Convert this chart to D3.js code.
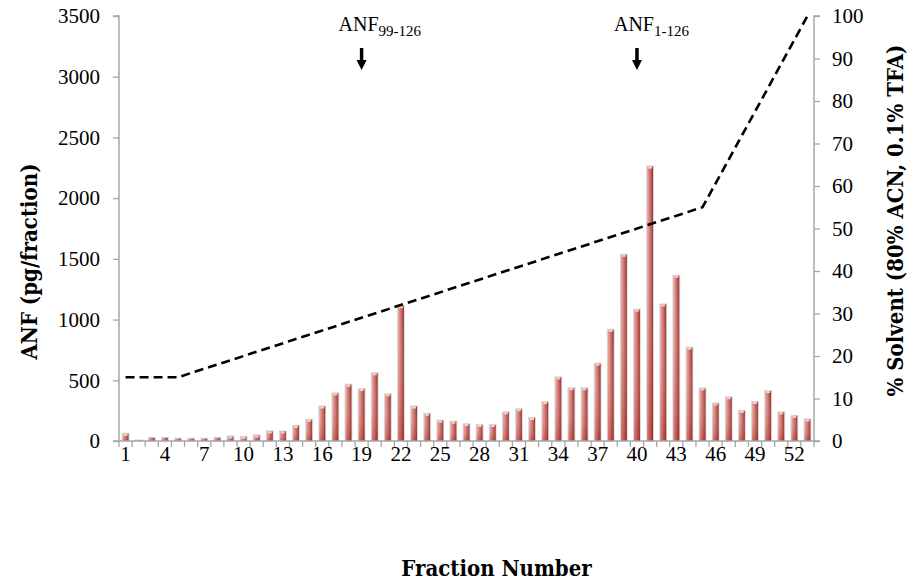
<!DOCTYPE html>
<html>
<head>
<meta charset="utf-8">
<script src="https://cdn.jsdelivr.net/npm/d3@7"></script>
<style>
  html, body { margin: 0; padding: 0; background: #fff; }
  svg { display: block; }
  .tick text { font-family: "Liberation Serif", serif; font-size: 21px; fill: #000; }
</style>
</head>
<body>
<svg id="chart" width="915" height="586"></svg>
<script>
// Fraction numbers collected from the HPLC run
const fractions = d3.range(1, 54);

// ANF immunoreactivity per fraction (pg/fraction)
const anfValues = [
  60, 5, 26, 26, 19, 19, 19, 26, 38, 34,
  46, 79, 79, 125, 175, 284, 392, 464, 428, 558,
  385, 1110, 284, 224, 168, 159, 139, 132, 132, 236,
  262, 190, 320, 524, 435, 435, 637, 916, 1534, 1082,
  2260, 1125, 1361, 768, 433, 309, 360, 248, 321, 411,
  236, 207, 177
];

// Solvent gradient programme: breakpoints (fraction, % solvent)
const gradientFractions = [1, 5, 45, 53];
const gradientPercent = [15, 15, 55, 100];

// Axis tick values
const leftTicks = [0, 500, 1000, 1500, 2000, 2500, 3000, 3500];
const rightTicks = [0, 10, 20, 30, 40, 50, 60, 70, 80, 90, 100];
const xLabelFractions = [1, 4, 7, 10, 13, 16, 19, 22, 25, 28, 31, 34, 37, 40, 43, 46, 49, 52];

// Peak annotations
const peakLabels = [
  { base: "ANF", sub: "99-126", fraction: 19 },
  { base: "ANF", sub: "1-126", fraction: 40 }
];

const svg = d3.select("#chart");
const plot = { left: 119, right: 814, top: 16, bottom: 441 };
const axisColor = "#a6a6a6";

const x = d3.scaleBand()
  .domain(fractions)
  .range([plot.left, plot.right])
  .paddingInner(0.55)
  .paddingOuter(0.275);
const step = x.step();
const cx = f => x(f) + x.bandwidth() / 2;

const yLeft = d3.scaleLinear().domain([0, 3500]).range([plot.bottom, plot.top]);
const yRight = d3.scaleLinear().domain([0, 100]).range([plot.bottom, plot.top]);

// Bar shading: light left edge, dark right edge
const defs = svg.append("defs");
const gH = defs.append("linearGradient").attr("id", "barH")
  .attr("x1", "0").attr("x2", "1").attr("y1", "0").attr("y2", "0");
gH.append("stop").attr("offset", "0%").attr("stop-color", "#e8aaa6");
gH.append("stop").attr("offset", "35%").attr("stop-color", "#d6847f");
gH.append("stop").attr("offset", "75%").attr("stop-color", "#b8504a");
gH.append("stop").attr("offset", "100%").attr("stop-color", "#8e2a26");
const gV = defs.append("linearGradient").attr("id", "barV")
  .attr("x1", "0").attr("x2", "0").attr("y1", "0").attr("y2", "1");
gV.append("stop").attr("offset", "0%").attr("stop-color", "#ffffff").attr("stop-opacity", 0.0);
gV.append("stop").attr("offset", "100%").attr("stop-color", "#a0201a").attr("stop-opacity", 0.35);

// Bars
const bars = svg.append("g");
const data = fractions.map((f, i) => ({ f, v: anfValues[i] }));
bars.selectAll("rect.shadow").data(data).join("rect")
  .attr("class", "shadow")
  .attr("x", d => x(d.f) - 1)
  .attr("y", d => yLeft(d.v) - 1)
  .attr("width", x.bandwidth() + 2)
  .attr("height", d => plot.bottom - yLeft(d.v) + 1)
  .attr("fill", "#d9d9d9");
bars.selectAll("rect.bar").data(data).join("rect")
  .attr("class", "bar")
  .attr("x", d => x(d.f))
  .attr("y", d => yLeft(d.v))
  .attr("width", x.bandwidth())
  .attr("height", d => plot.bottom - yLeft(d.v))
  .attr("fill", "url(#barH)");
bars.selectAll("rect.shade").data(data).join("rect")
  .attr("class", "shade")
  .attr("x", d => x(d.f))
  .attr("y", d => yLeft(d.v))
  .attr("width", x.bandwidth())
  .attr("height", d => plot.bottom - yLeft(d.v))
  .attr("fill", "url(#barV)");
bars.selectAll("rect.cap").data(data.filter(d => d.v > 30)).join("rect")
  .attr("class", "cap")
  .attr("x", d => x(d.f) + 1)
  .attr("y", d => yLeft(d.v))
  .attr("width", x.bandwidth() - 2)
  .attr("height", 2)
  .attr("fill", "#f3d3d1");

// Solvent gradient (dashed)
const gradient = gradientFractions.map((f, i) => [cx(f), yRight(gradientPercent[i])]);
svg.append("path")
  .attr("d", d3.line()(gradient))
  .attr("fill", "none")
  .attr("stroke", "#000")
  .attr("stroke-width", 2.6)
  .attr("stroke-dasharray", "9,5");

// Left axis
const gl = svg.append("g").attr("transform", `translate(${plot.left},0)`)
  .call(d3.axisLeft(yLeft).tickValues(leftTicks).tickSize(6).tickPadding(13).tickFormat(d3.format("d")));
// Right axis
const gr = svg.append("g").attr("transform", `translate(${plot.right},0)`)
  .call(d3.axisRight(yRight).tickValues(rightTicks).tickSize(6).tickPadding(12).tickFormat(d3.format("d")));
// Bottom axis: tick marks on category boundaries, labels on every third fraction
const gb = svg.append("g").attr("transform", `translate(0,${plot.bottom})`);
gb.append("line").attr("x1", plot.left).attr("x2", plot.right)
  .attr("stroke", axisColor).attr("stroke-width", 1.5);
gb.selectAll("line.tk").data(d3.range(0, fractions.length + 1)).join("line")
  .attr("class", "tk")
  .attr("x1", i => plot.left + i * step).attr("x2", i => plot.left + i * step)
  .attr("y1", 0).attr("y2", 6)
  .attr("stroke", axisColor).attr("stroke-width", 1.3);
gb.selectAll("text").data(xLabelFractions).join("text")
  .attr("x", f => cx(f)).attr("y", 20)
  .attr("text-anchor", "middle")
  .style("font-family", "'Liberation Serif', serif").style("font-size", "21px")
  .text(f => f);

[gl, gr].forEach(g => {
  g.select(".domain").attr("stroke", axisColor).attr("stroke-width", 1.5);
  g.selectAll(".tick line").attr("stroke", axisColor).attr("stroke-width", 1.3);
});
gl.select(".domain").attr("d", `M-6,${plot.top}H0V${plot.bottom}H-6`);
gr.select(".domain").attr("d", `M6,${plot.top}H0V${plot.bottom}H6`);

// Axis titles
const titleStyle = (sel, size) => sel
  .style("font-family", "'DejaVu Serif', serif")
  .style("font-stretch", "condensed")
  .style("font-weight", "bold")
  .style("font-size", size + "px")
  .attr("text-anchor", "middle");
svg.append("text").call(titleStyle, 22)
  .attr("transform", `translate(37,${(plot.top + plot.bottom) / 2 + 33}) rotate(-90)`)
  .text("ANF (pg/fraction)");
svg.append("text").call(titleStyle, 22)
  .attr("transform", `translate(903,${(plot.top + plot.bottom) / 2 - 8}) rotate(-90)`)
  .text("% Solvent (80% ACN, 0.1% TFA)");
svg.append("text").call(titleStyle, 22)
  .attr("x", (plot.left + plot.right) / 2 + 30).attr("y", 576)
  .text("Fraction Number");

// Peak annotations with arrows
const ann = svg.append("g");
peakLabels.forEach(p => {
  const px = cx(p.fraction);
  const t = ann.append("text")
    .attr("x", px - 23).attr("y", 31)
    .attr("text-anchor", "start")
    .style("font-family", "'Liberation Serif', serif")
    .style("font-size", "20px");
  t.append("tspan").text(p.base);
  t.append("tspan").attr("dy", 5).style("font-size", "15px").text(p.sub);
  ann.append("line")
    .attr("x1", px).attr("x2", px).attr("y1", 48).attr("y2", 62)
    .attr("stroke", "#000").attr("stroke-width", 3.5);
  ann.append("path")
    .attr("d", `M${px - 5},60 L${px + 5},60 L${px},70 Z`)
    .attr("fill", "#000");
});
</script>
</body>
</html>
